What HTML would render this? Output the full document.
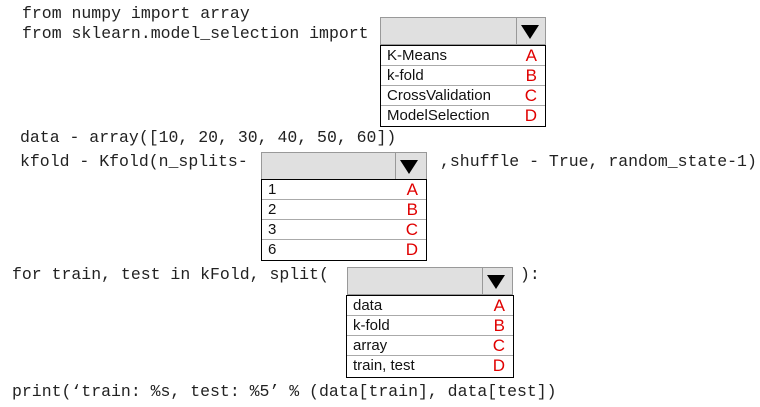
<!DOCTYPE html>
<html><head><style>
body{margin:0;width:760px;height:407px;background:#fff;position:relative;overflow:hidden}
.c{position:absolute;font-family:"Liberation Mono",monospace;font-size:16.5px;color:#222;white-space:pre;line-height:18px}
.h{position:absolute;background:#e0e0e0;border:1px solid #999;box-sizing:border-box}
.h .d{position:absolute;top:0;bottom:0;border-left:1px solid #999}
.h .t{position:absolute;width:0;height:0;border-left:9px solid transparent;border-right:9px solid transparent;border-top:14px solid #000}
.l{position:absolute;border:1px solid #000;box-sizing:border-box;background:#fff}
.r{position:relative;height:20px;border-bottom:1px solid #aaa;box-sizing:border-box;font-family:"Liberation Sans",sans-serif;font-size:15px;line-height:20px;padding-left:6px;color:#111}
.r:last-child{border-bottom:none}
.r span{position:absolute;right:8px;top:0px;color:#e00000;font-size:17px}
</style></head><body>
<div class="c" style="left:22px;top:5px">from numpy import array</div>
<div class="c" style="left:22px;top:25px">from sklearn.model_selection import</div>
<div class="h" style="left:380px;top:17px;width:166px;height:28px"><div class="d" style="left:135px"></div><div class="t" style="left:140px;top:7px"></div></div>
<div class="l" style="left:380px;top:45px;width:166px;height:82px">
<div class="r">K-Means<span>A</span></div><div class="r">k-fold<span>B</span></div><div class="r">CrossValidation<span>C</span></div><div class="r">ModelSelection<span>D</span></div></div>
<div class="c" style="left:20px;top:129px">data - array([10, 20, 30, 40, 50, 60])</div>
<div class="c" style="left:20px;top:153px">kfold - Kfold(n_splits-</div>
<div class="h" style="left:261px;top:152px;width:166px;height:28px"><div class="d" style="left:133px"></div><div class="t" style="left:138px;top:7px"></div></div>
<div class="c" style="left:440px;top:153px">,shuffle - True, random_state-1)</div>
<div class="l" style="left:261px;top:179px;width:166px;height:82px">
<div class="r">1<span>A</span></div><div class="r">2<span>B</span></div><div class="r">3<span>C</span></div><div class="r">6<span>D</span></div></div>
<div class="c" style="left:12px;top:266px">for train, test in kFold, split(</div>
<div class="h" style="left:347px;top:267px;width:166px;height:28px"><div class="d" style="left:134px"></div><div class="t" style="left:139px;top:7px"></div></div>
<div class="c" style="left:520px;top:266px">):</div>
<div class="l" style="left:346px;top:295px;width:168px;height:83px">
<div class="r">data<span>A</span></div><div class="r">k-fold<span>B</span></div><div class="r">array<span>C</span></div><div class="r">train, test<span>D</span></div></div>
<div class="c" style="left:12px;top:383px">print(‘train: %s, test: %5’ % (data[train], data[test])</div>
</body></html>
